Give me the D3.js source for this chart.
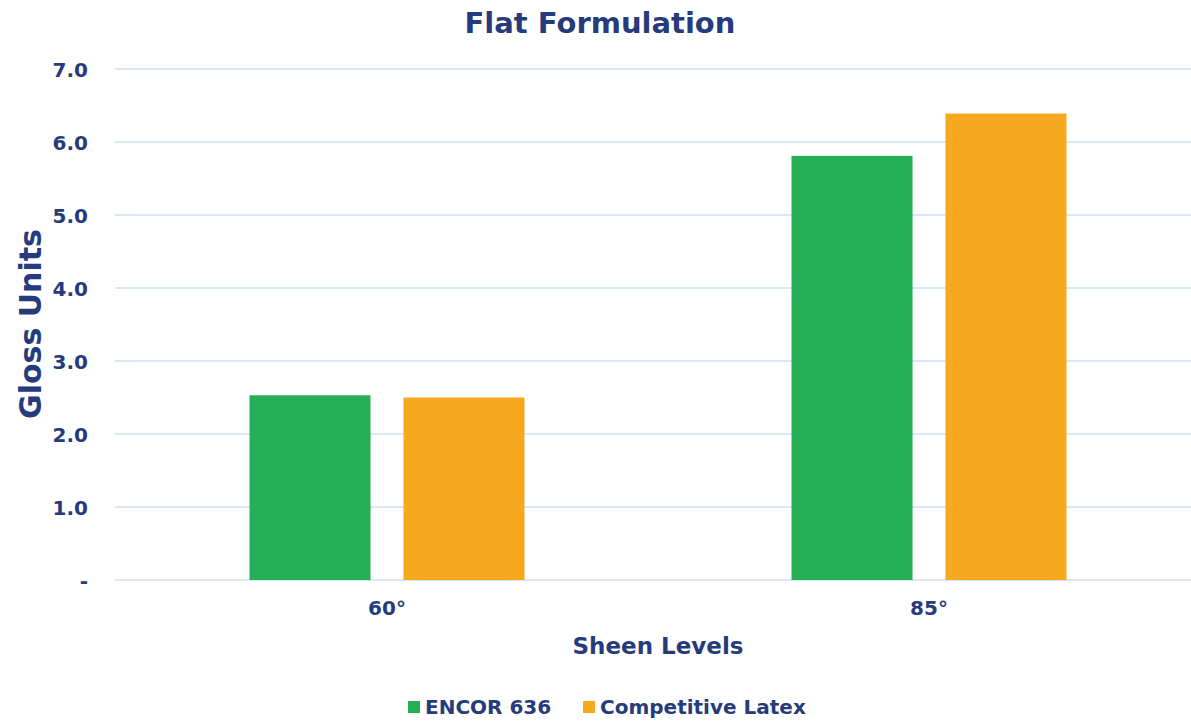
<!DOCTYPE html>
<html><head><meta charset="utf-8">
<script src="https://cdn.jsdelivr.net/npm/d3@7"></script>
<style>body{margin:0;background:#fff}svg{display:block}text{font-family:"DejaVu Sans",Verdana,sans-serif;font-weight:bold;fill:#263b7b}</style>
</head><body><svg id="c" width="1191" height="723"></svg>
<script>
const categories = ["60°", "85°"];
const seriesNames = ["ENCOR 636", "Competitive Latex"];
const encor = [2.53, 5.81];
const competitive = [2.50, 6.39];
const yTicks = [0, 1, 2, 3, 4, 5, 6, 7];
const yTickLabels = ["-", "1.0", "2.0", "3.0", "4.0", "5.0", "6.0", "7.0"];
const colors = ["#25ae56", "#f6a91f"];

(function () {
const svg = d3.select("#c");
const pLeft = 116, pRight = 1200, pTop = 69, pBottom = 580;
const groupW = 275;
const x = d3.scaleBand().domain(categories).range([pLeft, pRight]).paddingInner(0).paddingOuter(0);
const x1 = d3.scaleBand().domain(seriesNames).range([0, groupW]).paddingInner(0.214);
const y = d3.scaleLinear().domain([0, 7]).range([pBottom, pTop]);

// gridlines
svg.append("g").selectAll("line").data(yTicks).join("line")
  .attr("x1", 115).attr("x2", 1191)
  .attr("y1", d => y(d)).attr("y2", d => y(d))
  .attr("stroke", "#d9e8f7").attr("stroke-width", 2);

// y axis labels
const yAxis = d3.axisLeft(y).tickValues(yTicks).tickSize(0).tickPadding(0)
  .tickFormat((d, i) => yTickLabels[i]);
const gy = svg.append("g").attr("transform", "translate(88,0)").call(yAxis);
gy.select(".domain").remove();
gy.selectAll("text").attr("font-size", 20).attr("font-family", "DejaVu Sans").attr("fill", "#263b7b").attr("dy", "0.35em");

// bars
const data = categories.map((c, i) => ({c, vals: [encor[i], competitive[i]]}));
const groups = svg.append("g").selectAll("g").data(data).join("g")
  .attr("transform", d => `translate(${x(d.c) + (x.bandwidth() - groupW) / 2},0)`);
groups.selectAll("rect").data(d => d.vals.map((v, j) => ({v, s: seriesNames[j], j})))
  .join("rect")
  .attr("x", d => x1(d.s)).attr("width", x1.bandwidth())
  .attr("y", d => y(d.v)).attr("height", d => y(0) - y(d.v))
  .attr("fill", d => colors[d.j]);

// x axis labels
const xAxis = d3.axisBottom(x).tickSize(0).tickPadding(0);
const gx = svg.append("g").attr("transform", "translate(0,608)").call(xAxis);
gx.select(".domain").remove();
gx.selectAll("text").attr("font-size", 20).attr("font-family", "DejaVu Sans").attr("fill", "#263b7b").attr("dy", "0.35em");

// titles
svg.append("text").attr("x", 600).attr("y", 23).attr("text-anchor", "middle")
  .attr("dominant-baseline", "central").attr("font-size", 29).text("Flat Formulation");
svg.append("text").attr("x", 658).attr("y", 646).attr("text-anchor", "middle")
  .attr("dominant-baseline", "central").attr("font-size", 23).text("Sheen Levels");
svg.append("text").attr("transform", "translate(30,324) rotate(-90)").attr("text-anchor", "middle")
  .attr("dominant-baseline", "central").attr("font-size", 30).text("Gloss Units");

// legend
const legX = [408, 583];
const leg = svg.append("g").selectAll("g").data(seriesNames).join("g")
  .attr("transform", (d, i) => `translate(${legX[i]},707)`);
leg.append("rect").attr("x", 0).attr("y", -6).attr("width", 12).attr("height", 12).attr("fill", (d, i) => colors[i]);
leg.append("text").attr("x", 17).attr("y", 0).attr("dominant-baseline", "central").attr("font-size", 20).text(d => d);
})();
</script></body></html>
